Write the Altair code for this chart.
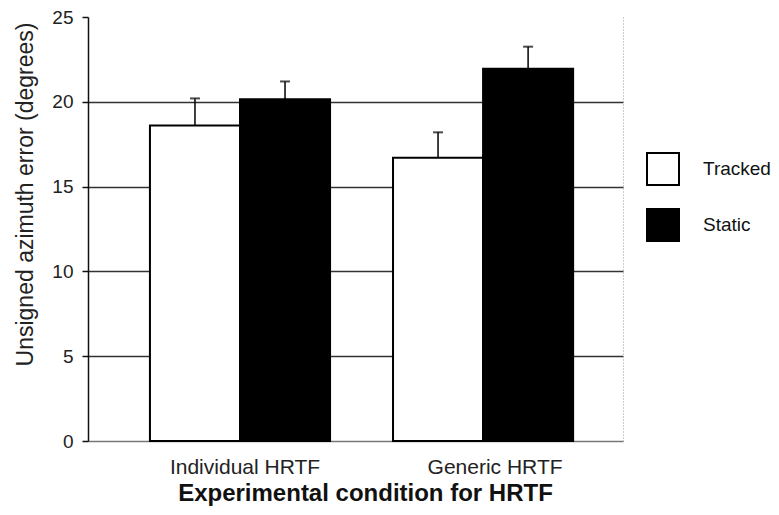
import altair as alt
import pandas as pd

groups = ["Individual HRTF", "Generic HRTF"]
conditions = ["Tracked", "Static"]
tracked = [18.6, 16.7]
static = [20.15, 21.95]
tracked_err = [1.6, 1.5]
static_err = [1.05, 1.3]
y_ticks = [0, 5, 10, 15, 20, 25]

rows = []
for i, g in enumerate(groups):
    rows.append(dict(group=g, cond="Tracked", value=tracked[i], top=tracked[i] + tracked_err[i]))
    rows.append(dict(group=g, cond="Static", value=static[i], top=static[i] + static_err[i]))
df = pd.DataFrame(rows)

FONT = "Liberation Sans"

xscale = alt.Scale(domain=groups, paddingInner=0.259, paddingOuter=0.23, align=0.554)
x_enc = alt.X(
    "group:N",
    scale=xscale,
    sort=groups,
    axis=alt.Axis(
        title="Experimental condition for HRTF",
        labelAngle=0,
        ticks=False,
        tickSize=0,
        labelFontSize=21,
        labelPadding=15,
        labelOffset=alt.condition("datum.value == 'Generic HRTF'", alt.value(12), alt.value(5)),
        labelColor="#222",
        labelFont=FONT,
        titleFont=FONT,
        titleFontSize=24,
        titleFontWeight="bold",
        titleColor="#111",
        titleBaseline="alphabetic",
        titleX=277,
        titleY=59,
        domainColor="#777",
        domainWidth=1.5,
        grid=False,
    ),
)
xo_enc = alt.XOffset("cond:N", scale=alt.Scale(domain=conditions, paddingInner=0, paddingOuter=0), sort=conditions)
yscale = alt.Scale(domain=[0, 25], nice=False, zero=True)

y_axis = alt.Axis(
    title="Unsigned azimuth error (degrees)",
    values=y_ticks,
    tickSize=6,
    tickColor="#111",
    tickWidth=1.5,
    labelFontSize=19,
    labelPadding=9,
    labelColor="#222",
    labelFont=FONT,
    titleFont=FONT,
    titleFontSize=23,
    titleFontWeight="normal",
    titleColor="#222",
    titleBaseline="middle",
    titleX=-63,
    titleY=177,
    domainColor="#111",
    domainWidth=1.5,
    grid=True,
    gridColor="#333",
    gridWidth=1.5,
    gridOpacity=alt.condition("datum.value == 25 || datum.value == 0", alt.value(0), alt.value(1)),
)

bars = alt.Chart(df).mark_bar(stroke="black", strokeWidth=2).encode(
    x=x_enc,
    xOffset=xo_enc,
    y=alt.Y("value:Q", scale=yscale, axis=y_axis),
    fill=alt.Fill(
        "cond:N",
        scale=alt.Scale(domain=conditions, range=["white", "black"]),
        legend=alt.Legend(
            title=None,
            orient="none",
            legendX=558,
            legendY=135,
            symbolType="square",
            symbolSize=1024,
            symbolStrokeColor="black",
            symbolStrokeWidth=2,
            labelFontSize=19,
            labelFont=FONT,
            labelColor="#111",
            labelOffset=23,
            rowPadding=16,
        ),
    ),
)

err = alt.Chart(df).mark_rule(color="black", strokeWidth=1.5).encode(
    x=x_enc, xOffset=xo_enc, y=alt.Y("value:Q", scale=yscale, axis=None), y2="top:Q"
)
caps = alt.Chart(df).mark_tick(color="black", size=10, thickness=2).encode(
    x=x_enc, xOffset=xo_enc, y=alt.Y("top:Q", scale=yscale, axis=None)
)

right = alt.Chart(df).mark_point(opacity=0).encode(
    y=alt.Y(
        "value:Q",
        scale=yscale,
        axis=alt.Axis(orient="right", labels=False, ticks=False, title=None, grid=False,
                      domainColor="#999", domainDash=[1, 2], domainWidth=1),
    ),
)

chart = (
    alt.layer(bars, err, caps, right)
    .resolve_scale(y="independent")
    .properties(
        width=535,
        height=424,
        autosize=alt.AutoSizeParams(type="none"),
        padding={"left": 80, "top": 9, "right": 148, "bottom": 66},
        background="white",
    )
    .configure_view(stroke=None)
)

chart.save("out.html", embed_options={"renderer": "svg", "actions": False})
